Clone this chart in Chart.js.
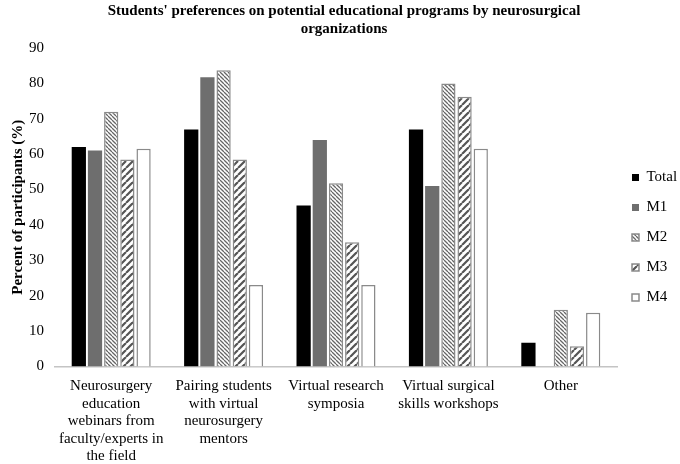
<!DOCTYPE html>
<html>
<head>
<meta charset="utf-8">
<script src="https://cdn.jsdelivr.net/npm/chart.js@4"></script>
<style>
  html, body { margin: 0; padding: 0; background: #fff; }
  #wrap { width: 680px; height: 464px; }
</style>
</head>
<body>
<div id="wrap"><canvas id="chart" width="680" height="464"></canvas></div>
<script>
const categories = [
    ['Neurosurgery', 'education', 'webinars from', 'faculty/experts in', 'the field'],
    ['Pairing students', 'with virtual', 'neurosurgery', 'mentors'],
    ['Virtual research', 'symposia'],
    ['Virtual surgical', 'skills workshops'],
    ['Other']
];
const seriesNames = ['Total', 'M1', 'M2', 'M3', 'M4'];
const totalValues = [62, 67, 45.5, 67, 6.7];
const m1Values = [61, 81.7, 64, 51, 0];
const m2Values = [72, 83.7, 51.8, 80, 16];
const m3Values = [58.5, 58.5, 35.1, 76.2, 5.7];
const m4Values = [61.5, 23, 23, 61.5, 15.2];
const yTicks = [0, 10, 20, 30, 40, 50, 60, 70, 80, 90];

// diagonal hatch fill, '\' or '/'
function hatch(size, lineW, color, dir) {
    const c = document.createElement('canvas');
    c.width = c.height = size;
    const g = c.getContext('2d');
    g.fillStyle = '#fff';
    g.fillRect(0, 0, size, size);
    g.strokeStyle = color;
    g.lineWidth = lineW;
    g.beginPath();
    for (const o of [-size, 0, size]) {
        if (dir === '\\') { g.moveTo(o, 0); g.lineTo(o + size, size); }
        else { g.moveTo(o, size); g.lineTo(o + size, 0); }
    }
    g.stroke();
    return g.createPattern(c, 'repeat');
}

const serif = 'Liberation Serif, Times New Roman, serif';
const edge = '#8a8a8a';

const ctx = document.getElementById('chart').getContext('2d');
new Chart(ctx, {
    type: 'bar',
    data: {
        labels: categories,
        datasets: [{
            label: seriesNames[0],
            data: totalValues,
            backgroundColor: '#000',
            borderWidth: 0
        }, {
            label: seriesNames[1],
            data: m1Values,
            backgroundColor: '#6e6e6e',
            borderWidth: 0
        }, {
            label: seriesNames[2],
            data: m2Values,
            backgroundColor: hatch(4, 1.3, '#666', '\\'),
            borderColor: edge,
            borderWidth: 1.5
        }, {
            label: seriesNames[3],
            data: m3Values,
            backgroundColor: hatch(7, 2.2, '#555', '/'),
            borderColor: edge,
            borderWidth: 1.5
        }, {
            label: seriesNames[4],
            data: m4Values,
            backgroundColor: '#fff',
            borderColor: edge,
            borderWidth: 1.5
        }]
    },
    options: {
        responsive: false,
        animation: false,
        categoryPercentage: 0.72,
        barPercentage: 0.88,
        layout: { padding: { left: 8, top: 1, right: 0, bottom: 0 } },
        plugins: {
            title: {
                display: true,
                text: ["Students' preferences on potential educational programs by neurosurgical", 'organizations'],
                color: '#000',
                font: { family: serif, size: 15, weight: 'bold', lineHeight: 1.2 },
                padding: { top: 1, bottom: 10 }
            },
            legend: {
                position: 'right',
                maxWidth: 63,
                title: { display: true, text: ' ', font: { size: 8, lineHeight: 1.25 }, padding: 0 },
                labels: {
                    boxWidth: 7,
                    boxHeight: 7,
                    padding: 15,
                    color: '#000',
                    font: { family: serif, size: 15 }
                }
            },
            tooltip: { enabled: false }
        },
        scales: {
            x: {
                grid: { display: false, drawTicks: false },
                border: { display: true, color: '#c4c4c4', width: 1.5 },
                afterFit: axis => {
                    axis.height -= 12;
                    axis.paddingLeft = 0;
                    axis.paddingRight = 0;
                },
                ticks: {
                    color: '#000',
                    maxRotation: 0,
                    autoSkip: false,
                    padding: 11,
                    font: { family: serif, size: 15, lineHeight: 1.167 }
                }
            },
            y: {
                min: 0,
                max: 90,
                afterBuildTicks: axis => { axis.ticks = yTicks.map(v => ({ value: v })); },
                afterFit: axis => { axis.width -= 10; },
                grid: { display: false, drawTicks: false },
                border: { display: false },
                ticks: {
                    color: '#000',
                    padding: 11,
                    font: { family: serif, size: 15 }
                },
                title: {
                    display: true,
                    text: 'Percent of participants (%)',
                    color: '#000',
                    font: { family: serif, size: 15, weight: 'bold' },
                    padding: { top: 1, bottom: 1 }
                }
            }
        }
    }
});
</script>
</body>
</html>
